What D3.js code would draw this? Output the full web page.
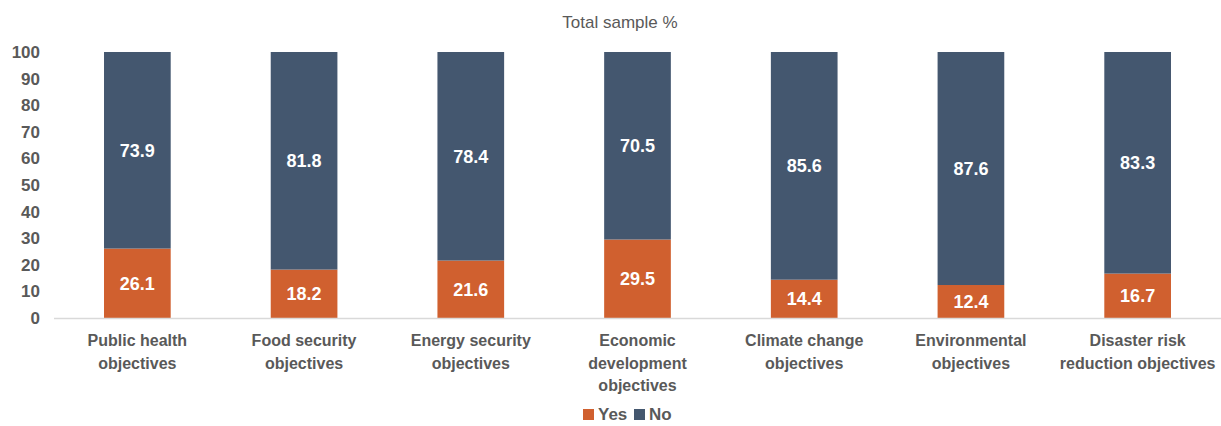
<!DOCTYPE html>
<html lang="en">
<head>
<meta charset="utf-8">
<title>Total sample %</title>
<style>
  body { margin: 0; background: #fff; font-family: "Liberation Sans", Arial, sans-serif; }
  svg { display: block; }
</style>
</head>
<body>
<script src="https://d3js.org/d3.v7.min.js"></script>
<script>
// chart data
var categories = [
  ["Public health", "objectives"],
  ["Food security", "objectives"],
  ["Energy security", "objectives"],
  ["Economic", "development", "objectives"],
  ["Climate change", "objectives"],
  ["Environmental", "objectives"],
  ["Disaster risk", "reduction objectives"]
];
var yesValues = [26.1, 18.2, 21.6, 29.5, 14.4, 12.4, 16.7];
var noValues = [73.9, 81.8, 78.4, 70.5, 85.6, 87.6, 83.3];
var yTicks = [0, 10, 20, 30, 40, 50, 60, 70, 80, 90, 100];
var seriesNames = ["Yes", "No"];
var colors = ["#D0602F", "#44576F"];

var w = 1221, h = 426;
var plotLeft = 54, plotRight = 1221, plotTop = 52, plotBottom = 318;

var svg = d3.select("body").append("svg")
    .attr("width", w)
    .attr("height", h);

var x = d3.scaleBand()
    .domain(d3.range(categories.length))
    .range([plotLeft, plotRight])
    .paddingInner(0.6)
    .paddingOuter(0.3);

var y = d3.scaleLinear().domain([0, 100]).range([plotBottom, plotTop]);

// title
svg.append("text")
    .attr("x", 620).attr("y", 28)
    .attr("text-anchor", "middle")
    .style("font-size", "17px")
    .style("fill", "#595959")
    .text("Total sample %");

// y axis labels
var yAxis = svg.append("g")
    .attr("transform", "translate(" + 40 + ",0)")
    .call(d3.axisLeft(y).tickValues(yTicks).tickSize(0).tickPadding(0));
yAxis.select(".domain").remove();
yAxis.selectAll("text")
    .style("font-family", "'Liberation Sans Narrow', 'Liberation Sans', Arial, sans-serif")
    .style("font-size", "17px")
    .style("font-weight", "bold")
    .style("fill", "#595959");

// bars
var stacked = categories.map(function(c, i) {
  return [
    { i: i, s: 0, y0: 0, y1: yesValues[i], v: yesValues[i] },
    { i: i, s: 1, y0: yesValues[i], y1: yesValues[i] + noValues[i], v: noValues[i] }
  ];
});
var segs = [].concat.apply([], stacked);

svg.append("g").selectAll("rect")
    .data(segs)
    .enter().append("rect")
    .attr("x", function(d) { return x(d.i); })
    .attr("width", x.bandwidth())
    .attr("y", function(d) { return y(Math.min(d.y1, 100)); })
    .attr("height", function(d) { return y(d.y0) - y(Math.min(d.y1, 100)); })
    .attr("fill", function(d) { return colors[d.s]; });

svg.append("g").selectAll("text")
    .data(segs)
    .enter().append("text")
    .attr("x", function(d) { return x(d.i) + x.bandwidth() / 2; })
    .attr("y", function(d) { return (y(d.y0) + y(Math.min(d.y1, 100))) / 2; })
    .attr("dy", "0.36em")
    .attr("text-anchor", "middle")
    .style("font-family", "'Liberation Sans Narrow', 'Liberation Sans', Arial, sans-serif")
    .style("font-size", "18px")
    .style("font-weight", "bold")
    .style("fill", "#fff")
    .text(function(d) { return d.v.toFixed(1); });

// baseline
svg.append("line")
    .attr("x1", plotLeft).attr("x2", plotRight)
    .attr("y1", y(0) + 0.5).attr("y2", y(0) + 0.5)
    .attr("stroke", "#d9d9d9")
    .attr("stroke-width", 1.5);

// category labels
var catG = svg.append("g").selectAll("text")
    .data(categories)
    .enter().append("text")
    .attr("x", function(d, i) { return x(i) + x.bandwidth() / 2; })
    .attr("y", 346)
    .attr("text-anchor", "middle")
    .style("font-size", "16px")
    .style("font-weight", "bold")
    .style("fill", "#595959");
catG.selectAll("tspan")
    .data(function(d) { return d; })
    .enter().append("tspan")
    .attr("x", function() { return d3.select(this.parentNode).attr("x"); })
    .attr("dy", function(d, j) { return j === 0 ? 0 : 22.5; })
    .text(function(d) { return d; });

// legend
var legend = svg.append("g").attr("transform", "translate(583,420)");
var items = legend.selectAll("g")
    .data(seriesNames)
    .enter().append("g")
    .attr("transform", function(d, i) { return "translate(" + (i * 51) + ",0)"; });
items.append("rect")
    .attr("x", 0).attr("y", -11)
    .attr("width", 11).attr("height", 11)
    .attr("fill", function(d, i) { return colors[i]; });
items.append("text")
    .attr("x", 15).attr("y", 0)
    .style("font-size", "17px")
    .style("font-weight", "bold")
    .style("fill", "#595959")
    .text(function(d) { return d; });
</script>
</body>
</html>
